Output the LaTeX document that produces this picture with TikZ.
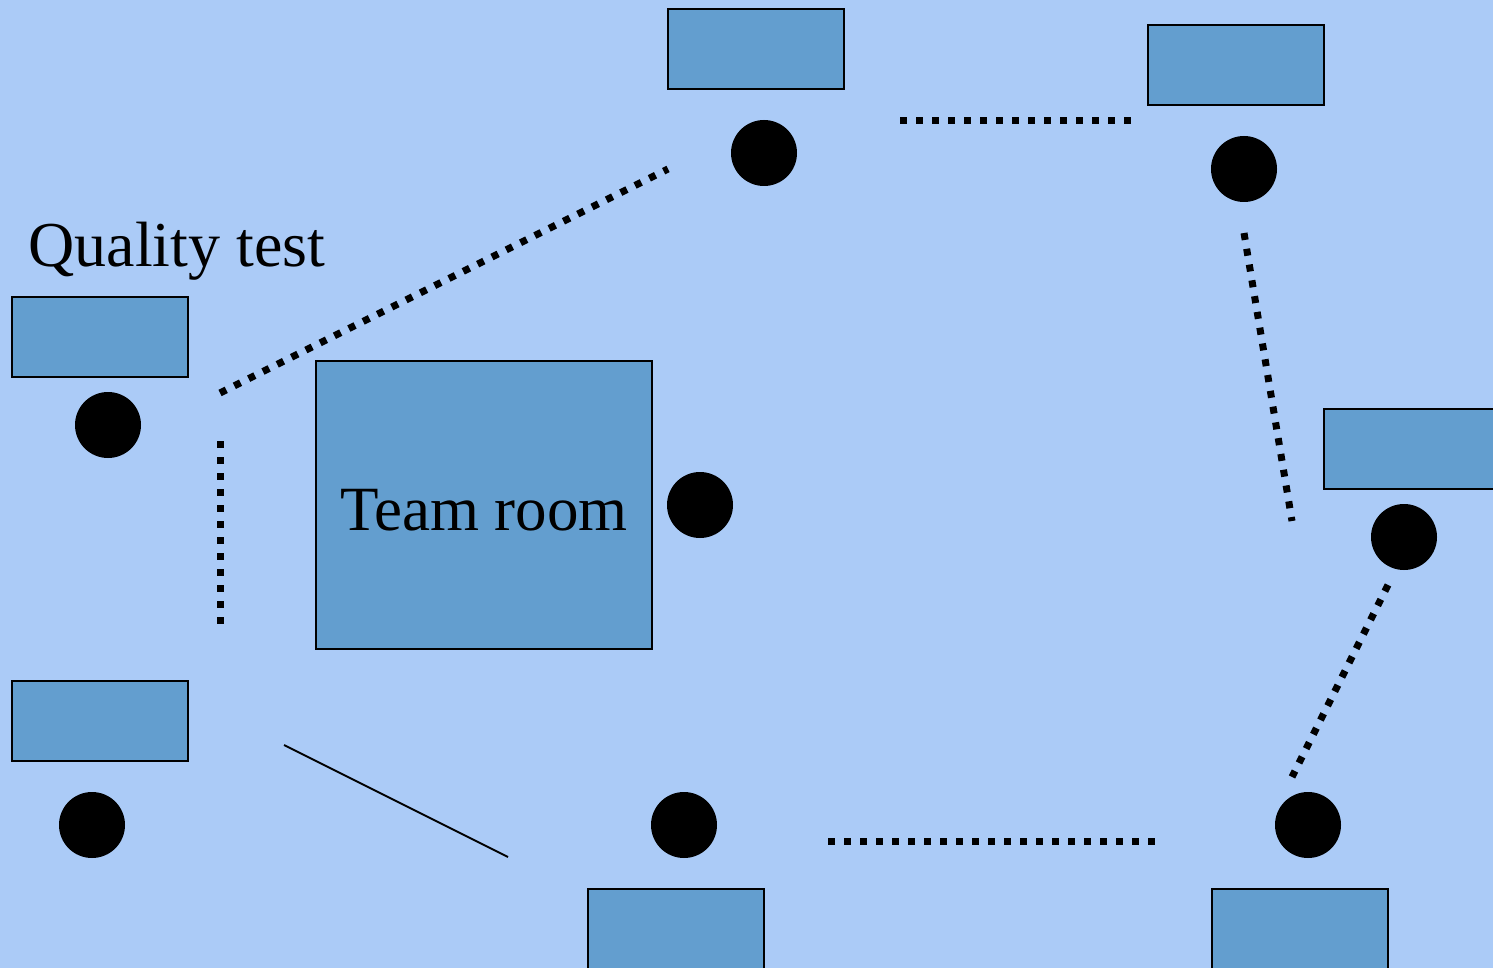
\documentclass[tikz,border=0pt]{standalone}
\usepackage{fontspec}
\setmainfont{Liberation Serif}
\definecolor{bg}{RGB}{171,203,247}
\definecolor{boxfill}{RGB}{99,158,207}
\tikzset{
  box/.style={draw=black, line width=1pt, fill=boxfill, minimum width=88pt, minimum height=40pt, inner sep=0pt},
  dot/.style={circle, fill=black, minimum size=33pt, inner sep=0pt},
  dotline/.style={line width=3.5pt, dash pattern=on 3.5pt off 4.5pt},
  plain/.style={line width=1pt}
}
\begin{document}
\begin{tikzpicture}[x=0.5pt,y=-0.5pt]
\useasboundingbox (0,0) rectangle (1493,968);
\clip (0,0) rectangle (1493,968);
\fill[bg] (0,0) rectangle (1493,968);
% boxes
\node[box] (b1) at (100,337) {};
\node[box] (b2) at (100,721) {};
\node[box] (b3) at (756,49) {};
\node[box] (b4) at (1236,65) {};
\node[box] (b5) at (1412,449) {};
\node[box] (b6) at (676,929) {};
\node[box] (b7) at (1300,929) {};
\node[box, minimum width=168pt, minimum height=144pt] (team) at (484,505) {};
\node[inner sep=0pt, font=\fontsize{31.5pt}{36pt}\selectfont] (teamtext) at (484,510) {Team room};
% circles
\node[dot] (c1) at (108,425) {};
\node[dot] (c2) at (92,825) {};
\node[dot] (c3) at (764,153) {};
\node[dot] (c4) at (1244,169) {};
\node[dot] (c5) at (1404,537) {};
\node[dot] (c6) at (684,825) {};
\node[dot] (c7) at (1308,825) {};
\node[dot] (c8) at (700,505) {};
% label
\node[anchor=base west, inner sep=0pt, font=\fontsize{32pt}{38pt}\selectfont] (qt) at (28,267) {Quality test};
% connector ends
\coordinate (p1a) at (220,393); \coordinate (p1b) at (668,169);
\coordinate (p2a) at (220,441); \coordinate (p2b) at (220,625);
\coordinate (p3a) at (900,121); \coordinate (p3b) at (1136,121);
\coordinate (p4a) at (1244,233); \coordinate (p4b) at (1292,521);
\coordinate (p5a) at (1388,585); \coordinate (p5b) at (1292,777);
\coordinate (p6a) at (828,841); \coordinate (p6b) at (1160,841);
\coordinate (s1a) at (284,745); \coordinate (s1b) at (508,857);
\draw[dotline] (p1a) -- (p1b);
\draw[dotline] (p2a) -- (p2b);
\draw[dotline] (p3a) -- (p3b);
\draw[dotline] (p4a) -- (p4b);
\draw[dotline] (p5a) -- (p5b);
\draw[dotline] (p6a) -- (p6b);
\draw[plain] (s1a) -- (s1b);
\end{tikzpicture}
\end{document}
